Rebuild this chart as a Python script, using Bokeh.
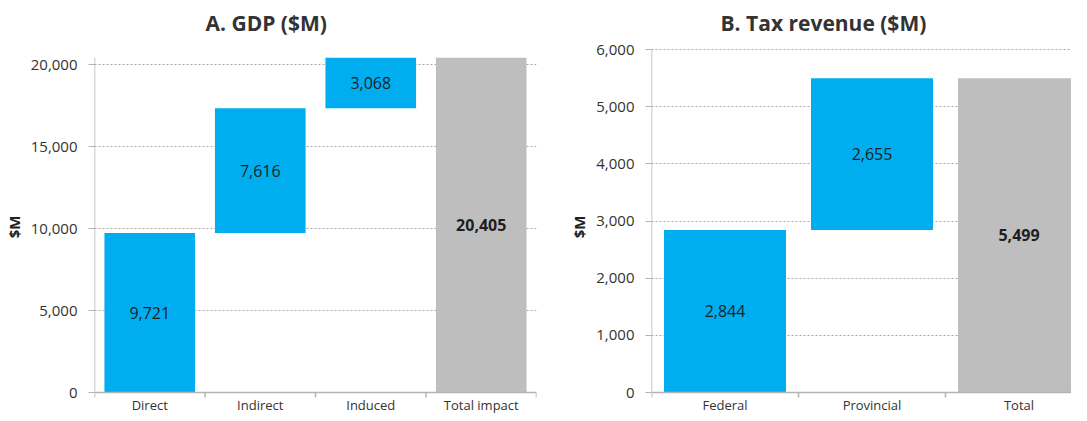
from bokeh.plotting import figure
from bokeh.layouts import row
from bokeh.models import ColumnDataSource, FixedTicker, NumeralTickFormatter, Range1d
from bokeh.core.properties import value, field
from bokeh.embed import file_html
from bokeh.resources import INLINE

# ---- data ----
gdp_categories = ["Direct", "Indirect", "Induced", "Total impact"]
gdp_values = [9721, 7616, 3068, 20405]
gdp_ticks = [0, 5000, 10000, 15000, 20000]

tax_categories = ["Federal", "Provincial", "Total"]
tax_values = [2844, 2655, 5499]
tax_ticks = [0, 1000, 2000, 3000, 4000, 5000, 6000]

BLUE = "#00AEEF"
GREY = "#BEBEBE"
FONT = "Open Sans"
AXIS = "#b3b3b3"
TXT = "#333333"

FIG_H = 413
FRAME_TOP = 40          # px from figure top (shared by both panels)
ZERO_FROM_BOTTOM = 21   # px between value 0 and the bottom of the frame


def waterfall_source(cats, vals):
    n = len(cats)
    bottoms, tops, colors, styles = [], [], [], []
    run = 0
    for i, v in enumerate(vals):
        if i == n - 1:
            bottoms.append(0); tops.append(v)
            colors.append(GREY); styles.append("bold")
        else:
            bottoms.append(run); tops.append(run + v); run += v
            colors.append(BLUE); styles.append("normal")
    x = list(range(1, n + 1))
    mid = [(b + t) / 2 for b, t in zip(bottoms, tops)]
    labels = [f"{v:,}" for v in vals]
    return ColumnDataSource(dict(x=x, bottom=bottoms, top=tops, color=colors,
                                 mid=mid, label=labels, style=styles))


def make_panel(cats, vals, yticks, px_per_unit, title, width, mb_left, mb_right,
               x_extent, title_offset, title_standoff, bar_width):
    src = waterfall_source(cats, vals)
    n = len(cats)
    frame_h = FIG_H - FRAME_TOP
    y_start = -ZERO_FROM_BOTTOM / px_per_unit
    y_end = (frame_h - ZERO_FROM_BOTTOM) / px_per_unit
    x_start, x_end = 0.5, 0.5 + x_extent

    p = figure(width=width, height=FIG_H, output_backend="svg", toolbar_location=None,
               x_range=Range1d(x_start, x_end), y_range=Range1d(y_start, y_end),
               x_axis_location=None,
               min_border_left=mb_left, min_border_right=mb_right,
               min_border_top=FRAME_TOP, min_border_bottom=0, title=title)
    p.outline_line_color = None
    p.background_fill_color = "white"
    p.border_fill_color = "white"

    # grid (positive ticks only)
    p.xgrid.visible = False
    p.ygrid.ticker = FixedTicker(ticks=[t for t in yticks if t > 0])
    p.ygrid.grid_line_color = "#a8a8a8"
    p.ygrid.grid_line_dash = "2 2"
    p.ygrid.grid_line_width = 1

    # bars + value labels
    p.vbar(x="x", width=bar_width, bottom="bottom", top="top", fill_color="color",
           line_color=None, source=src)
    p.text(x="x", y="mid", text="label", text_align="center", text_baseline="middle",
           text_font=value(FONT), text_font_size="16px", text_font_style=field("style"),
           text_color="#1e1e1e", source=src)

    # drawn x axis: line at 0, tick marks at category boundaries, labels below
    axis_top = max(max(yticks), max(vals))
    p.segment(x0=[x_start], y0=[0], x1=[x_end], y1=[0], line_color=AXIS, line_width=1.5)
    p.segment(x0=[x_start], y0=[0], x1=[x_start], y1=[axis_top], line_color=AXIS, line_width=1.5)
    bounds = [i + 0.5 for i in range(0, n + 1)]
    tick_len = 5 / px_per_unit
    p.segment(x0=bounds, y0=[0] * len(bounds), x1=bounds, y1=[-tick_len] * len(bounds),
              line_color=AXIS, line_width=1.5)
    cat_src = ColumnDataSource(dict(x=list(range(1, n + 1)), y=[-3 / px_per_unit] * n, t=cats))
    p.text(x="x", y="y", text="t", text_align="center", text_baseline="top",
           text_font=value(FONT), text_font_size="13px", text_color=TXT, source=cat_src)

    # title
    p.title.text_font = FONT
    p.title.text_font_size = "21px"
    p.title.text_font_style = "bold"
    p.title.text_color = TXT
    p.title.align = "left"
    p.title.offset = title_offset
    p.title.standoff = title_standoff

    # y axis
    ya = p.yaxis[0]
    ya.ticker = FixedTicker(ticks=yticks)
    ya.formatter = NumeralTickFormatter(format="0,0")
    ya.axis_line_color = None
    ya.major_tick_line_color = AXIS
    ya.major_tick_line_width = 1
    ya.major_tick_out = 6
    ya.major_tick_in = 0
    ya.minor_tick_line_color = None
    ya.major_label_standoff = 11
    ya.major_label_text_font = FONT
    ya.major_label_text_font_size = "15px"
    ya.major_label_text_color = TXT
    ya.axis_label = "$M"
    ya.axis_label_text_font = FONT
    ya.axis_label_text_font_size = "15px"
    ya.axis_label_text_font_style = "bold"
    ya.axis_label_text_color = "#222222"
    ya.axis_label_standoff = 4
    return p


left = make_panel(gdp_categories, gdp_values, gdp_ticks, (392 - 64) / 20000, "A. GDP ($M)",
                  width=552, mb_left=94, mb_right=16,
                  x_extent=len(gdp_categories), title_offset=111, title_standoff=8,
                  bar_width=0.82)
right = make_panel(tax_categories, tax_values, tax_ticks, (392 - 49) / 6000, "B. Tax revenue ($M)",
                   width=519, mb_left=99, mb_right=0,
                   x_extent=420 / 147, title_offset=69, title_standoff=8,
                   bar_width=0.83)

layout = row(left, right)
open("out.html", "w").write(file_html(layout, INLINE))
